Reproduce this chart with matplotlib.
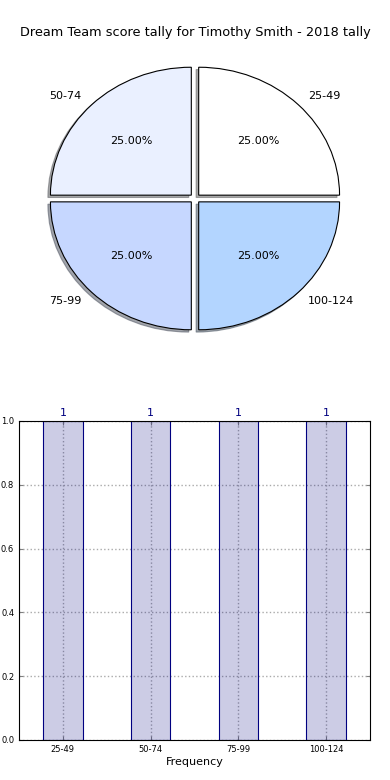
import matplotlib
matplotlib.use('Agg')
import matplotlib.pyplot as plt
import numpy as np

ranges = ['25-49', '50-74', '75-99', '100-124']
counts = [1, 1, 1, 1]
slice_colors = ['#FFFFFF', '#EAF0FF', '#C6D7FF', '#B3D5FF']
title = 'Dream Team score tally for Timothy Smith - 2018 tally'

fig = plt.figure(figsize=(3.9, 7.8), dpi=100)

# top: pie
ax1 = fig.add_axes([0.0485, 0.5405, 0.903, 0.41])
ax1.pie(counts, labels=ranges, colors=slice_colors, autopct='%1.2f%%',
        explode=[0.037] * len(counts),
        shadow={'ox': -0.013, 'oy': -0.013, 'shade': 0.65},
        wedgeprops={'edgecolor': 'black', 'linewidth': 0.8},
        textprops={'fontsize': 8})
ax1.set_aspect('auto')
ax1.set_xlim(-1.25, 1.25)
ax1.set_ylim(-1.25, 1.25)
ax1.set_title(title, fontsize=9.3, pad=2)

# bottom: bars
ax2 = fig.add_axes([0.0487, 0.0513, 0.9, 0.409])
pos = np.arange(len(ranges))
bars = ax2.bar(pos, counts, width=0.45, align='center',
               color=(0, 0, 0.5, 0.2), edgecolor='navy', linewidth=0.8)
for b, c in zip(bars, counts):
    ax2.text(b.get_x() + b.get_width() / 2, c + 0.01, str(c),
             ha='center', va='bottom', color='navy', fontsize=8)
ax2.set_xticks(pos)
ax2.set_xticklabels(ranges)
ax2.set_xlim(-0.5, len(ranges) - 0.5)
ax2.set_ylim(0, 1.0)
ax2.set_yticks(np.arange(0, 1.01, 0.2))
ax2.yaxis.set_major_formatter(matplotlib.ticker.FormatStrFormatter('%.1f'))
ax2.tick_params(labelsize=6, direction='in', top=True, right=True,
                length=3, color='gray')
ax2.grid(True, linestyle=':', color='#aaaaaa', linewidth=1.0)
ax2.set_axisbelow(True)
ax2.set_xlabel('Frequency', fontsize=8, labelpad=2)

plt.savefig('out.png', dpi=100)
